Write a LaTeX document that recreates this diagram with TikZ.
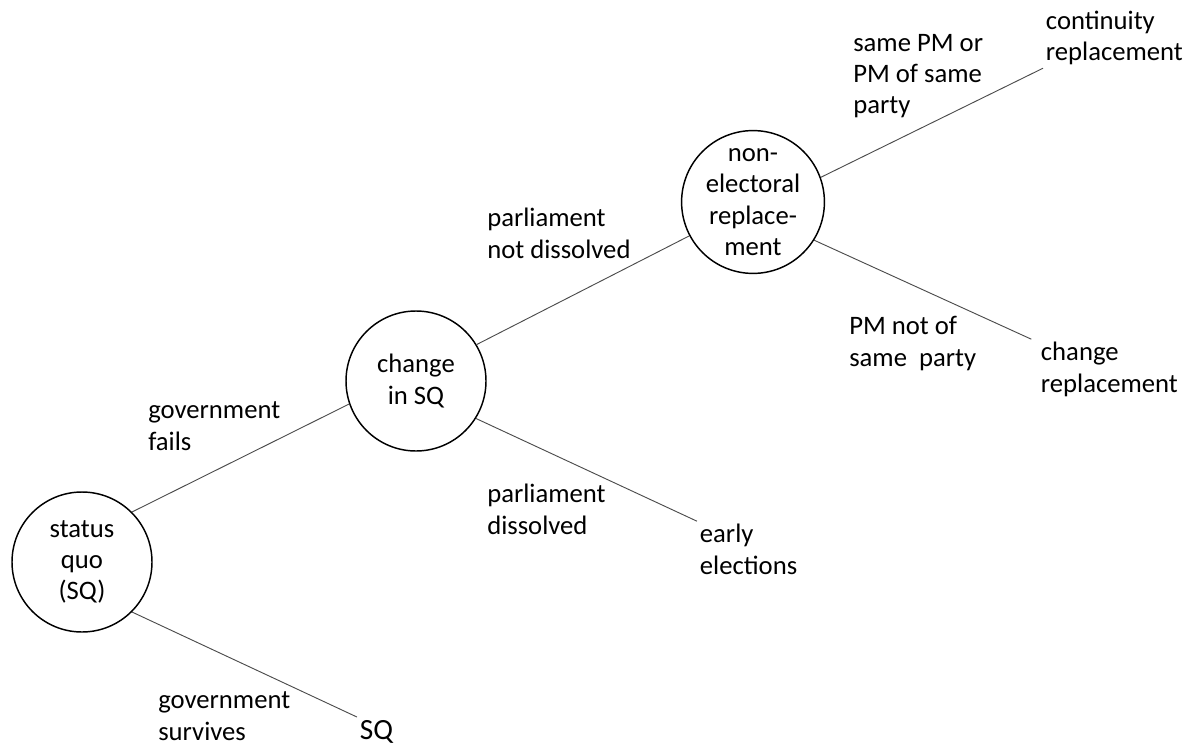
\documentclass[tikz,border=0pt]{standalone}
\usepackage{fontspec}
\setmainfont{Carlito}
\usetikzlibrary{positioning}

\begin{document}
\begin{tikzpicture}[x=0.75pt,y=-0.75pt,
		font=\fontsize{20}{23.5}\selectfont,
		chance/.style={circle,draw,line width=1.1pt,minimum size=105pt,inner sep=0pt,align=center},
		leaf/.style={align=left,inner sep=2pt,anchor=base west},
		lbl/.style={align=left,inner sep=0pt,anchor=base west},
		branch/.style={draw=black!70,line width=0.7pt}]

		\useasboundingbox (0,0) rectangle (1187,745);

		% decision nodes
		\node[chance] (n_0) at (82,562)  {status\\quo\\(SQ)};
		\node[chance] (n_1) at (416,381) {change\\in SQ};
		\node[chance,minimum size=107pt] (n_2) at (753,202) {non-\\electoral\\replace-\\ment};

		% outcomes (base = last line)
		\node[leaf,font=\fontsize{22}{26}\selectfont] (o_sq) at (357,739) {SQ};
		\node[leaf] (o_early) at (697,574) {early\\elections};
		\node[leaf] (o_cont)  at (1043,61) {continuity\\replacement};
		\node[leaf] (o_chg)   at (1038,392) {change\\replacement};

		% branches
		\draw[branch] (n_0.45)  -- (n_1.199);
		\draw[branch] (n_0.-45) -- (o_sq.north west);
		\draw[branch] (n_1.31)  -- (n_2.208);
		\draw[branch] (n_1.-32) -- (o_early.north west);
		\draw[branch] (n_2.20)  -- (o_cont.south west);
		\draw[branch] (n_2.-32) -- ([xshift=-5pt]o_chg.north west);

		% branch labels
		\node[lbl] (l_fail) at (148,450) {government\\fails};
		\node[lbl] (l_surv) at (158,740) {government\\survives};
		\node[lbl] (l_nd)   at (487,258) {parliament\\not dissolved};
		\node[lbl] (l_d)    at (487,534) {parliament\\dissolved};
		\node[lbl] (l_same) at (853,114) {same PM or\\PM of same\\party};
		\node[lbl] (l_not)  at (849,366) {PM not of\\same\ \ party};
	\end{tikzpicture}
\end{document}
